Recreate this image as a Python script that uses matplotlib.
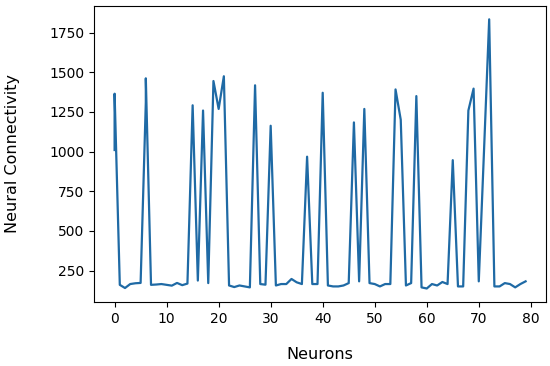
import numpy as np
import matplotlib
matplotlib.use("Agg")
import matplotlib.pyplot as plt

# neuron index (the first and the seventh neuron appear twice in the trace)
neurons = [0, 0, 1, 2, 3, 4, 5, 6, 6, 7, 8, 9,
           10, 11, 12, 13, 14, 15, 16, 17, 18, 19,
           20, 21, 22, 23, 24, 25, 26, 27, 28, 29,
           30, 31, 32, 33, 34, 35, 36, 37, 38, 39,
           40, 41, 42, 43, 44, 45, 46, 47, 48, 49,
           50, 51, 52, 53, 54, 55, 56, 57, 58, 59,
           60, 61, 62, 63, 64, 65, 66, 67, 68, 69,
           70, 71, 72, 73, 74, 75, 76, 77, 78, 79]

connectivity = [1010, 1365, 160, 140, 165, 170, 172, 1310, 1462, 160, 162, 165,
                160, 155, 172, 158, 168, 1292, 187, 1259, 171, 1445,
                1269, 1475, 156, 146, 156, 150, 144, 1418, 165, 161,
                1163, 156, 165, 165, 197, 176, 165, 968, 165, 165,
                1371, 156, 150, 150, 156, 171, 1184, 182, 1269, 171,
                165, 150, 165, 165, 1392, 1201, 156, 171, 1350, 144,
                137, 165, 156, 178, 165, 946, 150, 150, 1259, 1397,
                182, 1000, 1834, 150, 150, 171, 165, 144, 165, 182]

fig = plt.figure(figsize=(5.5, 3.66), dpi=100)
ax = fig.add_axes([0.171, 0.175, 0.822, 0.809])

ax.plot(neurons, connectivity, color="#1f6aa5", linewidth=1.6)

ax.set_xticks([0, 10, 20, 30, 40, 50, 60, 70, 80])
ax.set_yticks([250, 500, 750, 1000, 1250, 1500, 1750])
ax.tick_params(labelsize=10)

ax.set_xlabel("Neurons", fontsize=11.5, labelpad=15)
ax.set_ylabel("Neural Connectivity", fontsize=11.5, labelpad=21)

fig.savefig("out.png", dpi=100)
